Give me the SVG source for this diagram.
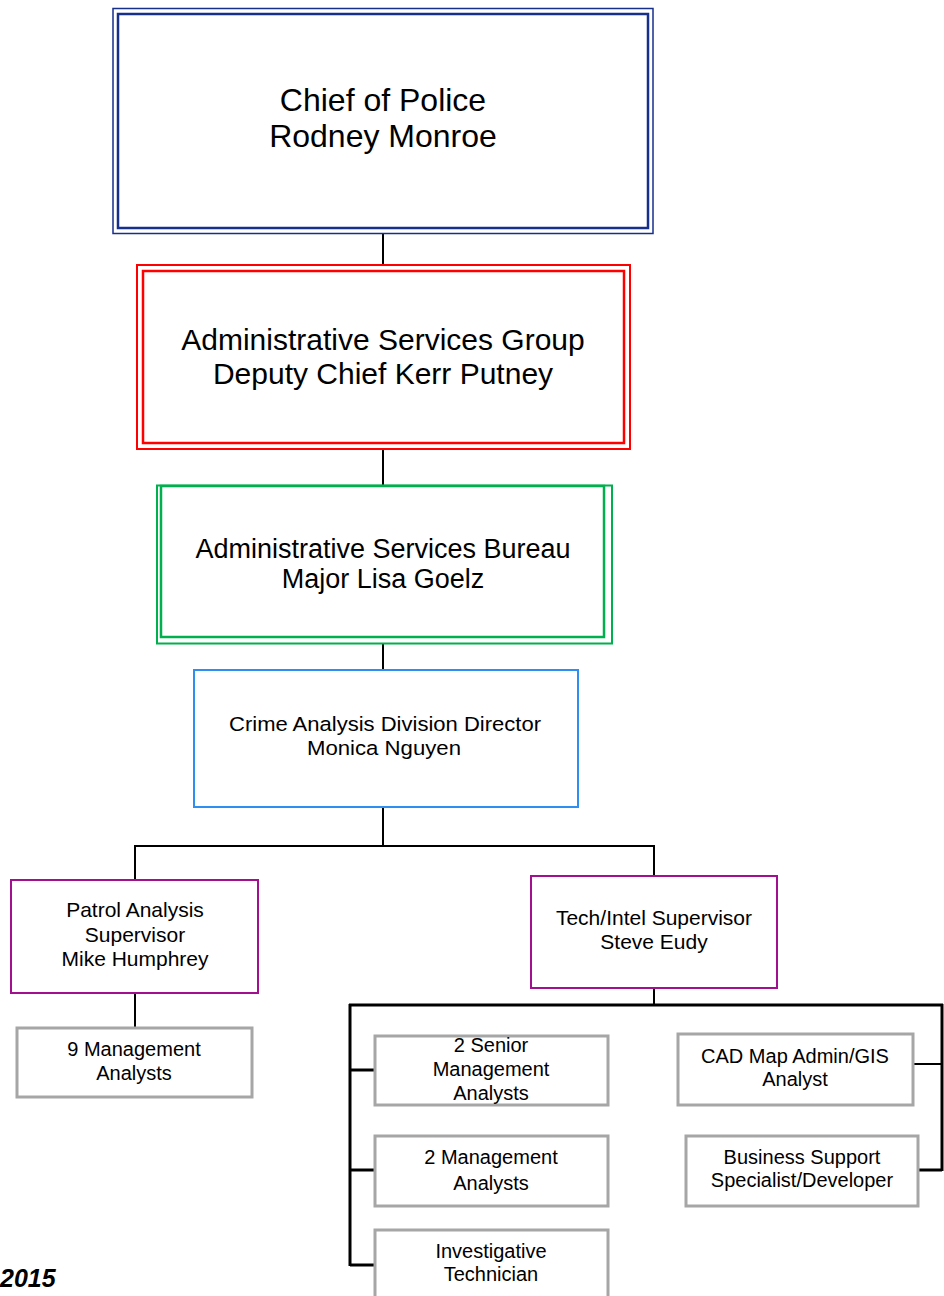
<svg xmlns="http://www.w3.org/2000/svg" width="944" height="1296" viewBox="0 0 944 1296">
<style>
text{font-family:"Liberation Sans",Arial,sans-serif;fill:#000;text-anchor:middle}
.navy{stroke:#162f8c;fill:none}
.red{stroke:#ff0000;fill:none}
.green{stroke:#00b04f;fill:none}
.blue{stroke:#2f8ff0;fill:#fff;stroke-width:2}
.purple{stroke:#a0108f;fill:#fff;stroke-width:2}
.gray{stroke:#a6a6a6;fill:#fff;stroke-width:3}
.conn line{stroke:#000;stroke-width:2}
.conn .thick{stroke-width:3}
.t32{font-size:32px}
.t30{font-size:30px}
.t27{font-size:27px}
.t21{font-size:21px}
.t20{font-size:20px}
.sm{font-size:20.5px}
</style>
<rect width="944" height="1296" fill="#fff"/>
<g id="connectors" class="conn">
<line x1="383" y1="234" x2="383" y2="265"/>
<line x1="383" y1="449" x2="383" y2="485"/>
<line x1="383" y1="644" x2="383" y2="670"/>
<line x1="383" y1="807" x2="383" y2="846"/>
<line x1="134" y1="846" x2="655" y2="846"/>
<line x1="135" y1="845" x2="135" y2="880"/>
<line x1="654" y1="845" x2="654" y2="876"/>
<line x1="135" y1="993" x2="135" y2="1027"/>
<line x1="654" y1="988" x2="654" y2="1005"/>
<line class="thick" x1="349" y1="1005" x2="943" y2="1005"/>
<line class="thick" x1="350" y1="1004" x2="350" y2="1266"/>
<line class="thick" x1="942" y1="1004" x2="942" y2="1171"/>
<line class="thick" x1="350" y1="1070" x2="376" y2="1070"/>
<line class="thick" x1="350" y1="1170" x2="376" y2="1170"/>
<line class="thick" x1="350" y1="1265" x2="376" y2="1265"/>
<line x1="913" y1="1064" x2="942" y2="1064"/>
<line class="thick" x1="918" y1="1170" x2="942" y2="1170"/>
</g>
<g id="chief">
<rect x="113" y="8.5" width="540" height="225" class="navy" stroke-width="1.5"/>
<rect x="118" y="14" width="530" height="214" class="navy" stroke-width="2.5"/>
<text class="t32" x="383" y="111">Chief of Police</text>
<text class="t32" x="383" y="147">Rodney Monroe</text>
</g>
<g id="asg">
<rect x="137" y="265" width="493" height="184" class="red" stroke-width="2"/>
<rect x="143" y="271" width="481" height="172" class="red" stroke-width="2.5"/>
<text class="t30" x="383" y="350">Administrative Services Group</text>
<text class="t30" x="383" y="384">Deputy Chief Kerr Putney</text>
</g>
<g id="asb">
<rect x="157" y="485.5" width="455" height="158" class="green" stroke-width="2"/>
<rect x="161" y="486" width="443" height="151" class="green" stroke-width="2.5"/>
<text class="t27" x="383" y="558">Administrative Services Bureau</text>
<text class="t27" x="383" y="588">Major Lisa Goelz</text>
</g>
<g id="cad-director">
<rect x="194" y="670" width="384" height="137" class="blue"/>
<text class="sm" x="385" y="731" textLength="312" lengthAdjust="spacingAndGlyphs">Crime Analysis Division Director</text>
<text class="sm" x="384" y="755" textLength="154" lengthAdjust="spacingAndGlyphs">Monica Nguyen</text>
</g>
<g id="patrol">
<rect x="11" y="880" width="247" height="113" class="purple"/>
<text class="t21" x="135" y="917">Patrol Analysis</text>
<text class="t21" x="135" y="942">Supervisor</text>
<text class="t21" x="135" y="966">Mike Humphrey</text>
</g>
<g id="mgmt9">
<rect x="17" y="1028" width="235" height="69" class="gray"/>
<text class="t20" x="134" y="1056">9 Management</text>
<text class="t20" x="134" y="1080">Analysts</text>
</g>
<g id="techintel">
<rect x="531" y="876" width="246" height="112" class="purple"/>
<text class="t21" x="654" y="925">Tech/Intel Supervisor</text>
<text class="t21" x="654" y="949">Steve Eudy</text>
</g>
<g id="senior">
<rect x="375" y="1036" width="233" height="69" class="gray"/>
<text class="t20" x="491" y="1052">2 Senior</text>
<text class="t20" x="491" y="1076">Management</text>
<text class="t20" x="491" y="1100">Analysts</text>
</g>
<g id="cadmap">
<rect x="678" y="1034" width="235" height="71" class="gray"/>
<text class="t20" x="795" y="1063">CAD Map Admin/GIS</text>
<text class="t20" x="795" y="1086">Analyst</text>
</g>
<g id="mgmt2">
<rect x="375" y="1136" width="233" height="70" class="gray"/>
<text class="t20" x="491" y="1164">2 Management</text>
<text class="t20" x="491" y="1190">Analysts</text>
</g>
<g id="business">
<rect x="686" y="1136" width="232" height="70" class="gray"/>
<text class="t20" x="802" y="1164">Business Support</text>
<text class="t20" x="802" y="1187">Specialist/Developer</text>
</g>
<g id="investigative">
<rect x="375" y="1230" width="233" height="70" class="gray"/>
<text class="t20" x="491" y="1258">Investigative</text>
<text class="t20" x="491" y="1281">Technician</text>
</g>
<text x="0" y="1287" style="font-size:25px;font-weight:bold;font-style:italic;text-anchor:start">2015</text>
</svg>
